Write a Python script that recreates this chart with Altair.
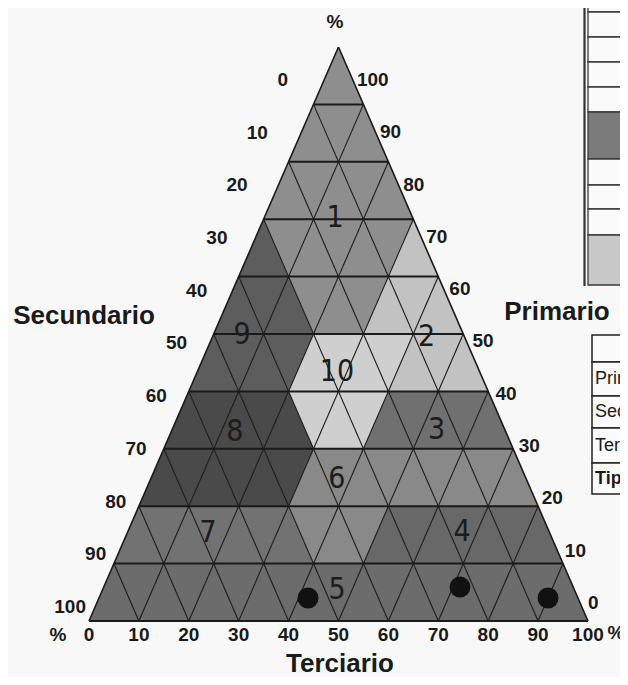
import altair as alt
import pandas as pd

# ---------------- data ----------------
# Region (Tipo) of every small triangle, row by row from the base
# (Primario 0-10 %) up to the apex; cells left to right, alternating
# upward / downward triangles.
row_regions = [
    [5] * 19,
    [7, 7, 7, 7, 7, 7, 7, 6, 6, 6, 4, 4, 4, 4, 4, 4, 4],
    [8, 8, 8, 8, 8, 8, 6, 6, 6, 6, 6, 6, 6, 6, 6],
    [8, 8, 8, 8, 8, 10, 10, 10, 3, 3, 3, 3, 3],
    [9, 9, 9, 9, 10, 10, 10, 10, 2, 2, 2],
    [9, 9, 9, 1, 1, 1, 2, 2, 2],
    [9, 1, 1, 1, 1, 1, 2],
    [1, 1, 1, 1, 1],
    [1, 1, 1],
    [1],
]
region_ids = [1, 2, 3, 4, 5, 6, 7, 8, 9, 10]
region_grays = ["#8e8e8e", "#c2c2c2", "#707070", "#686868", "#6c6c6c",
                "#898989", "#727272", "#4a4a4a", "#5d5d5d", "#cfcfcf"]

# position of each region number (Primario %, Terciario %)
label_text = ["1", "9", "2", "10", "8", "3", "6", "7", "4", "5"]
label_prim = [70.2, 49.8, 49.5, 43.4, 32.9, 33.3, 24.7, 15.3, 15.5, 5.4]
label_terc = [14.2, 5.8, 42.9, 28.0, 12.8, 53.0, 37.3, 16.2, 67.0, 47.0]

# black dots (Primario %, Terciario %)
dot_prim = [4.0, 5.9, 4.0]
dot_terc = [41.9, 71.4, 90.0]

ticks = [0, 10, 20, 30, 40, 50, 60, 70, 80, 90, 100]
legend_rows = ["Prim", "Sec", "Ter"]
legend_bold = ["Tip"]
axis_titles = ["Secundario", "Primario", "Terciario"]

# ---------------- geometry helpers ----------------
W, H = 612, 669
X0, X1 = -16.23, 106.42
Y0, Y1 = -9.76, 106.79
xs = alt.Scale(domain=[X0, X1], nice=False, zero=False)
ys = alt.Scale(domain=[Y0, Y1], nice=False, zero=False)


def X(f):
    return alt.X(f, type="quantitative", scale=xs, axis=None)


def Y(f):
    return alt.Y(f, type="quantitative", scale=ys, axis=None)


def px(xp):  # page pixel -> data x
    return X0 + (xp - 8) / W * (X1 - X0)


def py(yp):  # page pixel -> data y
    return Y1 - (yp - 8) / H * (Y1 - Y0)


gray_of = dict(zip(region_ids, region_grays))

# triangles as 3-point areas
tri = []
cid = 0
for k, row in enumerate(row_regions):
    for c, reg in enumerate(row):
        j = c // 2
        base = 10 * j + 5 * k
        if c % 2 == 0:  # upward
            pts = [(base, 10 * k, 10 * k), (base + 5, 10 * k + 10, 10 * k),
                   (base + 10, 10 * k, 10 * k)]
        else:  # downward
            pts = [(base + 5, 10 * k + 10, 10 * k + 10), (base + 10, 10 * k, 10 * k + 10),
                   (base + 15, 10 * k + 10, 10 * k + 10)]
        for (x, y, y2) in pts:
            tri.append({"cell": cid, "x": float(x), "y": float(y), "y2": float(y2),
                        "col": gray_of[reg]})
        cid += 1
tri_df = pd.DataFrame(tri)

cells = alt.Chart(tri_df).mark_area(interpolate="linear", opacity=1).encode(
    x=X("x"), y=Y("y"), y2="y2:Q",
    detail="cell:N",
    fill=alt.Fill("col:N", scale=None),
)

# grid segments
seg = []
for v in range(10, 100, 10):
    seg.append({"x": v / 2, "y": v, "x2": 100 - v / 2, "y2": v, "w": 2.0})
    seg.append({"x": v, "y": 0, "x2": v + (100 - v) / 2, "y2": 100 - v, "w": 1.1})
    seg.append({"x": 100 - v, "y": 0, "x2": (100 - v) / 2, "y2": 100 - v, "w": 1.1})
seg += [
    {"x": 0, "y": 0, "x2": 100, "y2": 0, "w": 2.2},
    {"x": 0, "y": 0, "x2": 50, "y2": 100, "w": 1.6},
    {"x": 100, "y": 0, "x2": 50, "y2": 100, "w": 1.6},
]
seg_df = pd.DataFrame(seg).astype(float)
grid = alt.Chart(seg_df).mark_rule(color="#1a1a1a").encode(
    x=X("x"), y=Y("y"), x2="x2:Q", y2="y2:Q",
    strokeWidth=alt.StrokeWidth("w:Q", scale=None),
)

dots_df = pd.DataFrame({"p": dot_prim, "t": dot_terc})
dots_df["x"] = dots_df["t"] + dots_df["p"] / 2
dots = alt.Chart(dots_df).mark_circle(size=440, color="#111111", opacity=1).encode(
    x=X("x"), y=Y("p"))

lab_df = pd.DataFrame({"txt": label_text, "p": label_prim, "t": label_terc})
lab_df["x"] = lab_df["t"] + lab_df["p"] / 2
NARROW = "Liberation Sans Narrow, Arial Narrow, DejaVu Sans Condensed, sans-serif"
SANS = "Liberation Sans, Arial, sans-serif"
labels = alt.Chart(lab_df).mark_text(font=NARROW, fontSize=30, color="#1c1c1c",
                                     baseline="middle", align="center").encode(
    x=X("x"), y=Y("p"), text="txt:N")

tick_style = dict(font=SANS, fontSize=19, fontWeight="bold", color="#1a1a1a", baseline="middle")

bot_df = pd.DataFrame({"v": [float(v) for v in ticks]})
bot_df["lab"] = [str(v) for v in ticks]
bot_df["y"] = 0.0
bottom = alt.Chart(bot_df).mark_text(align="center", dy=14, **tick_style).encode(
    x=X("v"), y=Y("y"), text="lab:N")

left_df = pd.DataFrame({"lab": [str(v) for v in ticks]})
left_df["x"] = [39.9 - 0.405 * v for v in ticks]
left_df["y"] = [94.25 - 0.918 * v for v in ticks]
left = alt.Chart(left_df).mark_text(align="right", **tick_style).encode(
    x=X("x"), y=Y("y"), text="lab:N")

right_df = pd.DataFrame({"lab": [str(v) for v in ticks]})
right_df["x"] = [100 - 0.463 * v for v in ticks]
right_df["y"] = [3.14 + 0.911 * v for v in ticks]
right = alt.Chart(right_df).mark_text(align="left", **tick_style).encode(
    x=X("x"), y=Y("y"), text="lab:N")

pct_df = pd.DataFrame({"lab": ["%", "%", "%"],
                       "x": [px(335), px(58), px(616)],
                       "y": [py(22), py(635), py(633)]})
pct = alt.Chart(pct_df).mark_text(align="center", **tick_style).encode(
    x=X("x"), y=Y("y"), text="lab:N")

title_df = pd.DataFrame({"lab": axis_titles,
                         "x": [px(84), px(557), px(340)],
                         "y": [py(316), py(312), py(664)]})
titles = alt.Chart(title_df).mark_text(align="center", baseline="middle", font=SANS,
                                       fontSize=26, fontWeight="bold", color="#1a1a1a").encode(
    x=X("x"), y=Y("y"), text="lab:N")

# ---------------- partial tables at the right edge ----------------
t1_bounds = [-2, 12, 37, 62, 87, 112, 159, 185, 209, 235, 285]
t1_fill = ["#fafafa"] * 5 + ["#7a7a7a"] + ["#fafafa"] * 3 + ["#c8c8c8"]
t1 = pd.DataFrame({
    "x": [px(588)] * 10, "x2": [px(660)] * 10,
    "y": [py(v) for v in t1_bounds[:-1]], "y2": [py(v) for v in t1_bounds[1:]],
    "col": t1_fill})
table1 = alt.Chart(t1).mark_rect(stroke="#3a3a3a", strokeWidth=1.3).encode(
    x=X("x"), x2="x2:Q", y=Y("y"), y2="y2:Q",
    fill=alt.Fill("col:N", scale=None))
t1_border = alt.Chart(pd.DataFrame({"x": [px(584.5)], "y": [py(-2)], "y2": [py(286)]})).mark_rule(
    color="#333333", strokeWidth=2.2).encode(x=X("x"), y=Y("y"), y2="y2:Q")

t2_bounds = [335, 362, 396, 428, 463, 494]
t2 = pd.DataFrame({
    "x": [px(592)] * 5, "x2": [px(660)] * 5,
    "y": [py(v) for v in t2_bounds[:-1]], "y2": [py(v) for v in t2_bounds[1:]]})
table2 = alt.Chart(t2).mark_rect(fill="#fbfbfb", stroke="#222222", strokeWidth=1.5).encode(
    x=X("x"), x2="x2:Q", y=Y("y"), y2="y2:Q")
mid = [(t2_bounds[i] + t2_bounds[i + 1]) / 2 for i in range(1, 5)]
t2n = pd.DataFrame({"lab": legend_rows, "x": [px(595)] * 3, "y": [py(v) for v in mid[:3]]})
t2b = pd.DataFrame({"lab": legend_bold, "x": [px(595)], "y": [py(mid[3])]})
t2_norm = alt.Chart(t2n).mark_text(font=SANS, fontSize=18, align="left",
                                   baseline="middle", color="#1a1a1a").encode(
    x=X("x"), y=Y("y"), text="lab:N")
t2_bold = alt.Chart(t2b).mark_text(font=SANS, fontSize=18, fontWeight="bold",
                                   align="left", baseline="middle", color="#1a1a1a").encode(
    x=X("x"), y=Y("y"), text="lab:N")

chart = alt.layer(
    table1, t1_border, table2, t2_norm, t2_bold,
    cells, grid, dots, labels, bottom, left, right, pct, titles,
).properties(
    width=W, height=H, autosize=alt.AutoSizeParams(type="none"), padding=0,
    background="#f8f8f8",
).configure_view(stroke=None)

chart.save("out.html", embed_options={"renderer": "svg", "actions": False})
